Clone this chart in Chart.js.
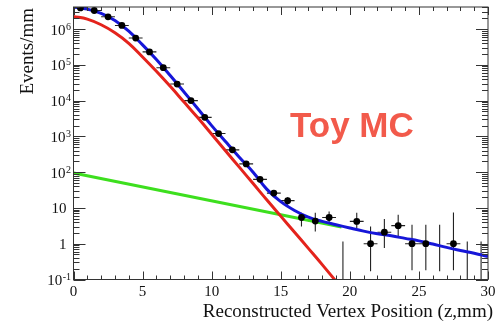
<!DOCTYPE html>
<html>
<head>
<meta charset="utf-8">
<title>Reconstructed vertex z</title>
<script src="https://cdn.jsdelivr.net/npm/chart.js@4/dist/chart.umd.min.js"></script>
<style>
  html, body { margin:0; padding:0; background:#fff; }
  #wrap { width:498px; height:323px; }
</style>
</head>
<body>
<div id="wrap"><canvas id="vtx" width="498" height="323"></canvas></div>
<script>
// ═══════════════════════════════════════════════════════════
// Vertex z distribution — toy MC with fit components
// ═══════════════════════════════════════════════════════════

// 1 mm bins
const binCenters = [0.5, 1.5, 2.5, 3.5, 4.5, 5.5, 6.5, 7.5, 8.5, 9.5,
                    10.5, 11.5, 12.5, 13.5, 14.5, 15.5, 16.5, 17.5, 18.5, 19.5,
                    20.5, 21.5, 22.5, 23.5, 24.5, 25.5, 26.5, 27.5, 28.5, 29.5];
const events = [3.9e6, 3.3e6, 2.2e6, 1.26e6, 5.6e5, 2.3e5, 8.3e4, 2.9e4, 1.0e4, 3.4e3,
                1.2e3, 420, 170, 63, 26, 16, 5.4, 4.3, 5.4, null,
                4.2, 1, 2.1, 3.2, 1, 1, null, 1, null, null];
// vertical error bar ends (null = hidden under the marker)
const errLow  = [null, null, null, null, null, null, null, null, null, null,
                 null, null, null, 55, 21, 12, 3.05, 2.2, 3.4, 0.1,
                 2.75, 0.17, 0.76, 1.6, 0.18, 0.18, 0.17, 0.18, 0.1, 0.1];
const errHigh = [null, null, null, null, null, null, null, null, null, null,
                 null, null, null, 71, 31, 20, 7.3, 7.3, 8.0, 1.16,
                 7.3, 3.05, 4.9, 6.5, 3.4, 3.4, 3.4, 7.4, 1.16, 1.16];

// fit: total (blue)
const totalZ = [0, 1, 2, 3, 4, 5, 6, 7, 8, 9, 10, 11, 12, 13, 14, 15,
                16, 17, 18, 19, 20, 21, 22, 23, 24, 25, 26, 27, 28, 29, 30];
const totalY = [4.1e6, 3.6e6, 2.75e6, 1.74e6, 8.7e5, 3.6e5, 1.4e5, 5.0e4, 1.74e4, 5.9e3,
                2.0e3, 720, 263, 100, 33, 15, 8.5, 5.5, 4.2, 3.4,
                2.75, 2.25, 1.9, 1.66, 1.41, 1.2, 0.98, 0.79, 0.65, 0.54, 0.44];
// fit: signal (red)
const signalZ = [0, 1, 2, 3, 4, 5, 6, 7, 8, 9, 10, 11, 12, 13, 14, 15, 16, 17, 18, 19.2];
const signalY = [2.24e6, 1.9e6, 1.32e6, 7.9e5, 4.0e5, 1.66e5, 6.6e4, 2.5e4, 9.1e3, 3.3e3,
                 1.15e3, 398, 138, 48, 16.6, 5.9, 2.1, 0.74, 0.26, 0.072];
// fit: background (green)
const bkgZ = [0, 19.4];
const bkgY = [95, 2.95];

// axis labels
const xTickValues = [0, 5, 10, 15, 20, 25, 30];
const yTickValues = [0.1, 1, 10, 100, 1e3, 1e4, 1e5, 1e6];
const yTickBase   = ['10', '1', '10', '10', '10', '10', '10', '10'];
const yTickExp    = ['-1', '', '', '2', '3', '4', '5', '6'];

const SERIF = '"Liberation Serif", "Times New Roman", serif';
const BLUE = '#1616d8', RED = '#e4231c', GREEN = '#3ddf1e';

const pts = (xs, ys) => xs.map((x, i) => ({ x, y: ys[i] }));

// error bars under the markers
const errorBars = {
  id: 'errorBars',
  beforeDatasetsDraw(chart) {
    const { ctx, chartArea: a, scales: { x, y } } = chart;
    ctx.save();
    ctx.beginPath(); ctx.rect(a.left, a.top, a.right - a.left, a.bottom - a.top); ctx.clip();
    ctx.strokeStyle = '#222'; ctx.lineWidth = 1.1;
    binCenters.forEach((z, i) => {
      const px = x.getPixelForValue(z);
      if (errLow[i] != null) {
        ctx.beginPath();
        ctx.moveTo(px, y.getPixelForValue(errLow[i]));
        ctx.lineTo(px, y.getPixelForValue(errHigh[i]));
        ctx.stroke();
      }
      if (events[i] != null) {
        const py = y.getPixelForValue(events[i]);
        ctx.beginPath();
        ctx.moveTo(x.getPixelForValue(z - 0.5), py);
        ctx.lineTo(x.getPixelForValue(z + 0.5), py);
        ctx.stroke();
      }
    });
    ctx.restore();
  }
};

// frame, inward ticks, labels and titles
const rootAxes = {
  id: 'rootAxes',
  afterDraw(chart) {
    const { ctx, chartArea: a, scales: { x, y } } = chart;
    ctx.save();
    ctx.strokeStyle = '#333'; ctx.lineWidth = 1;
    ctx.strokeRect(a.left, a.top, a.right - a.left, a.bottom - a.top);

    ctx.beginPath();
    for (let v = x.min; v <= x.max; v++) {
      const px = Math.round(x.getPixelForValue(v)) + 0.5;
      const len = v % 5 === 0 ? 8 : 4;
      ctx.moveTo(px, a.bottom); ctx.lineTo(px, a.bottom - len);
      ctx.moveTo(px, a.top);    ctx.lineTo(px, a.top + len);
    }
    for (let d = -1; d <= 6; d++) {
      for (let m = 1; m <= 9; m++) {
        const v = m * Math.pow(10, d);
        if (v < y.min || v > y.max) continue;
        const py = Math.round(y.getPixelForValue(v)) + 0.5;
        const len = m === 1 ? 12 : 6;
        ctx.moveTo(a.left, py);  ctx.lineTo(a.left + len, py);
        ctx.moveTo(a.right, py); ctx.lineTo(a.right - len, py);
      }
    }
    ctx.stroke();

    ctx.fillStyle = '#111';
    // x tick labels
    ctx.font = `15px ${SERIF}`;
    ctx.textAlign = 'center'; ctx.textBaseline = 'alphabetic';
    xTickValues.forEach(v => ctx.fillText(String(v), x.getPixelForValue(v), a.bottom + 16));

    // y tick labels with exponents
    yTickValues.forEach((v, i) => {
      const py = y.getPixelForValue(v);
      ctx.textAlign = 'right';
      if (yTickExp[i]) {
        ctx.font = `10px ${SERIF}`;
        const ew = ctx.measureText(yTickExp[i]).width;
        ctx.fillText(yTickExp[i], a.left - 2.5, py + 0.5);
        ctx.font = `15px ${SERIF}`;
        ctx.fillText(yTickBase[i], a.left - 3 - ew, py + 5.5);
      } else {
        ctx.font = `15px ${SERIF}`;
        ctx.fillText(yTickBase[i], a.left - 7, py + 5.5);
      }
    });

    // axis titles
    ctx.font = `19px ${SERIF}`;
    ctx.textAlign = 'right';
    ctx.fillText('Reconstructed Vertex Position (z,mm)', 493, 317);
    ctx.save();
    ctx.translate(33, 8);
    ctx.rotate(-Math.PI / 2);
    ctx.fillText('Events/mm', 0, 0);
    ctx.restore();

    ctx.font = 'bold 35px "Liberation Sans", Arial, sans-serif';
    ctx.fillStyle = '#f25a4b';
    ctx.textAlign = 'left';
    ctx.fillText('Toy MC', 290, 137);
    ctx.restore();
  }
};

const line = (label, data, color) => ({
  label, data, showLine: true, borderColor: color, borderWidth: 3,
  pointRadius: 0, tension: 0.4, fill: false
});

new Chart(document.getElementById('vtx'), {
  type: 'scatter',
  data: {
    datasets: [
      { label: 'Toy MC', data: pts(binCenters, events), pointRadius: 3.4,
        backgroundColor: '#000', borderWidth: 0, showLine: false },
      line('total', pts(totalZ, totalY), BLUE),
      line('signal', pts(signalZ, signalY), RED),
      line('background', pts(bkgZ, bkgY), GREEN)
    ]
  },
  options: {
    responsive: false,
    animation: false,
    devicePixelRatio: 1,
    layout: { padding: { left: 73.5, right: 10, top: 7, bottom: 43.5 } },
    plugins: { legend: { display: false }, tooltip: { enabled: false } },
    scales: {
      x: { type: 'linear', min: 0, max: 30, display: false },
      y: { type: 'logarithmic', min: 0.1, max: 4.13e6, display: false }
    }
  },
  plugins: [errorBars, rootAxes]
});
</script>
</body>
</html>
